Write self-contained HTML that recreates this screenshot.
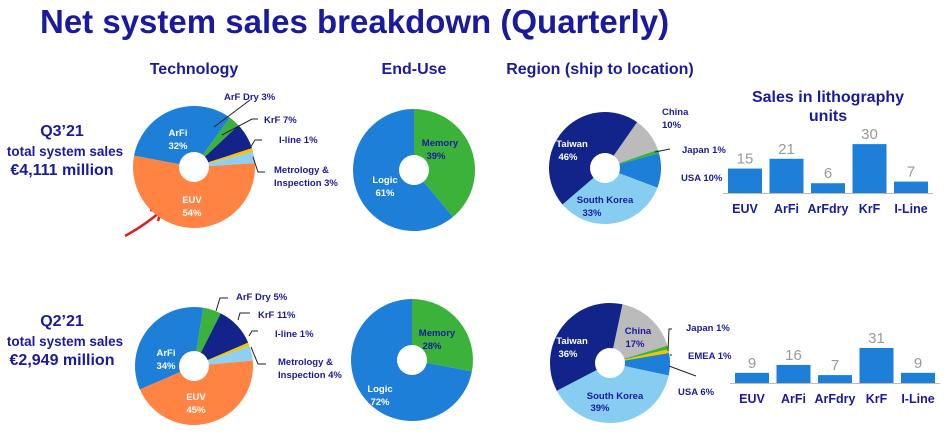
<!DOCTYPE html>
<html><head><meta charset="utf-8">
<style>
body{margin:0;width:948px;height:445px;background:#fff;overflow:hidden;font-family:"Liberation Sans",Arial,sans-serif}
svg{position:absolute;left:0;top:0}
</style></head>
<body>
<svg width="948" height="445" viewBox="0 0 948 445">
<text x="40" y="33" font-size="33" font-weight="bold" fill="#1a1a9e">Net system sales breakdown (Quarterly)</text>
<g font-weight="bold" fill="#1a1a9e" font-size="16" text-anchor="middle">
<text x="194" y="74">Technology</text>
<text x="414" y="74">End-Use</text>
<text x="600" y="74">Region (ship to location)</text>
<text x="828" y="102">Sales in lithography</text>
<text x="828" y="121">units</text>
<text x="62" y="136" font-size="16">Q3’21</text>
<text x="65" y="156" font-size="13.5">total system sales</text>
<text x="62" y="175" font-size="16">€4,111 million</text>
<text x="62" y="326" font-size="16">Q2’21</text>
<text x="65" y="346" font-size="13.5">total system sales</text>
<text x="62" y="365" font-size="16">€2,949 million</text>
</g>
<path d="M125,236 Q145,225 160,212 M150,210 L161,211 L158,221" stroke="#e02020" stroke-width="2.5" fill="none"/>
<g id="pies"></g>
<g id="bars"></g>
<g id="callouts" stroke="#222" stroke-width="1" fill="none">
<path d="M214,127 L250,100"/><path d="M222,135 L252,119 L258,119"/><path d="M250,148 L255,140 L262,140"/><path d="M253,157 L258,172 L265,172"/>
<path d="M216,311 L220,298 L228,298"/><path d="M238,320 L240,313 L250,313"/><path d="M249,336 L252,331 L258,331"/><path d="M251,347 L258,364 L266,364"/>
<path d="M655,152 L670,149"/>
<path d="M668,351 L669,329 L672,329"/><path d="M670,355 L672,355"/><path d="M669,366 L696,376"/>
</g>
<g font-weight="bold" font-size="9.5" fill="#1a1a9e">
<text x="224" y="100">ArF Dry 3%</text><text x="264" y="123">KrF 7%</text><text x="279" y="143">I-line 1%</text>
<text x="274" y="173">Metrology &amp;</text><text x="274" y="186">Inspection 3%</text>
<text x="236" y="300">ArF Dry 5%</text><text x="258" y="318">KrF 11%</text><text x="275" y="337">I-line 1%</text>
<text x="278" y="365">Metrology &amp;</text><text x="278" y="378">Inspection 4%</text>
<text x="662" y="115">China</text><text x="662" y="128">10%</text><text x="682" y="153">Japan 1%</text><text x="681" y="181">USA 10%</text>
<text x="686" y="331">Japan 1%</text><text x="688" y="359">EMEA 1%</text><text x="678" y="395">USA 6%</text>
</g>
<g font-weight="bold" font-size="9.5" fill="#fff" text-anchor="middle">
<text x="178" y="136">ArFi</text><text x="178" y="149">32%</text><text x="192" y="203">EUV</text><text x="192" y="216">54%</text>
<text x="166" y="356">ArFi</text><text x="166" y="369">34%</text><text x="196" y="400">EUV</text><text x="196" y="413">45%</text>
<text x="385" y="183">Logic</text><text x="385" y="196">61%</text><text x="440" y="146" fill="#1a1a9e">Memory</text><text x="436" y="159" fill="#1a1a9e">39%</text>
<text x="380" y="392">Logic</text><text x="380" y="405">72%</text><text x="437" y="336" fill="#1a1a9e">Memory</text><text x="432" y="349" fill="#1a1a9e">28%</text>
<text x="572" y="147">Taiwan</text><text x="568" y="160">46%</text><text x="605" y="203" fill="#1a1a9e">South Korea</text><text x="592" y="216" fill="#1a1a9e">33%</text>
<text x="572" y="344">Taiwan</text><text x="568" y="357">36%</text><text x="638" y="334" fill="#1a1a9e">China</text><text x="635" y="347" fill="#1a1a9e">17%</text>
<text x="615" y="399" fill="#1a1a9e">South Korea</text><text x="600" y="411" fill="#1a1a9e">39%</text>
</g>
</svg>
<script>
const NS='http://www.w3.org/2000/svg';
// Pie data (percent shares, clockwise from start angle)
const techQ3=[3,7,1,3,54,32];
const techQ2=[5,11,1,4,45,34];
const techColors=['#3bb33b','#14238a','#f5c400','#8fd0f2','#ff8444','#1e7fd9'];
const endQ3=[39,61];
const endQ2=[28,72];
const endColors=['#3bb33b','#1e7fd9'];
const regQ3=[10,1,10,33,46];
const regQ3Colors=['#bbbbbb','#3bb33b','#1e7fd9','#87cdf2','#12248a'];
const regQ2=[17,1,1,6,39,36];
const regQ2Colors=['#bbbbbb','#3bb33b','#f5c400','#1e7fd9','#87cdf2','#12248a'];
// Bar data
const unitCats=['EUV','ArFi','ArFdry','KrF','I-Line'];
const unitsQ3=[15,21,6,30,7];
const unitsQ2=[9,16,7,31,9];

const pieG=document.getElementById('pies');
function pie(vals,colors,cx,cy,r,start,name){
  const g=document.createElementNS(NS,'g');
  
  
  const tot=vals.reduce((a,b)=>a+b,0);
  let a=start;
  vals.forEach((v,i)=>{
    const a2=a+v/tot*360;
    const p=t=>[cx+r*Math.sin(t*Math.PI/180),cy-r*Math.cos(t*Math.PI/180)];
    const [x1,y1]=p(a),[x2,y2]=p(a2);
    const path=document.createElementNS(NS,'path');
    path.setAttribute('d',`M${cx},${cy}L${x1},${y1}A${r},${r} 0 ${a2-a>180?1:0} 1 ${x2},${y2}Z`);
    path.setAttribute('fill',colors[i]);
    
    
    g.appendChild(path);a=a2;
  });
  const h=document.createElementNS(NS,'circle');
  h.setAttribute('cx',cx);h.setAttribute('cy',cy);h.setAttribute('r',15);h.setAttribute('fill','#fff');
  
  
  g.appendChild(h);
  pieG.appendChild(g);
}
pie(techQ3,techColors,194,167,61,36,'tech-q3-pie');
pie(techQ2,techColors,194,366,59,9,'tech-q2-pie');
pie(endQ3,endColors,414,170,61,0,'enduse-q3-pie');
pie(endQ2,endColors,412,360,61,0,'enduse-q2-pie');
pie(regQ3,regQ3Colors,605,168,56,35,'region-q3-pie');
pie(regQ2,regQ2Colors,610,363,60,12,'region-q2-pie');

const barG=document.getElementById('bars');
function bars(vals,x0,step,w,base,scale,name){
  const g=document.createElementNS(NS,'g');
  
  
  const ax=document.createElementNS(NS,'line');
  ax.setAttribute('x1',x0-5);ax.setAttribute('x2',x0+step*4+w+5);ax.setAttribute('y1',base+0.5);ax.setAttribute('y2',base+0.5);
  ax.setAttribute('stroke','#bbb');
  
  
  g.appendChild(ax);
  vals.forEach((v,i)=>{
    const x=x0+i*step,h=v*scale;
    const r=document.createElementNS(NS,'rect');
    r.setAttribute('x',x);r.setAttribute('y',base-h);r.setAttribute('width',w);r.setAttribute('height',h);r.setAttribute('fill','#1e7fd9');
    
    
    g.appendChild(r);
    const t=document.createElementNS(NS,'text');
    t.setAttribute('x',x+w/2);t.setAttribute('y',base-h-5);t.setAttribute('text-anchor','middle');
    t.setAttribute('font-size','15');t.setAttribute('fill','#999');t.textContent=v;
    
    
    g.appendChild(t);
    const c=document.createElementNS(NS,'text');
    c.setAttribute('x',x+w/2);c.setAttribute('y',base+20);c.setAttribute('text-anchor','middle');
    c.setAttribute('font-size','12.5');c.setAttribute('font-weight','bold');c.setAttribute('fill','#1a1a9e');c.textContent=unitCats[i];
    
    
    g.appendChild(c);
  });
  barG.appendChild(g);
}
bars(unitsQ3,728,41.5,34,193,1.63,'units-q3-chart');
bars(unitsQ2,735,41.5,34,383,1.13,'units-q2-chart');
</script>
</body></html>
